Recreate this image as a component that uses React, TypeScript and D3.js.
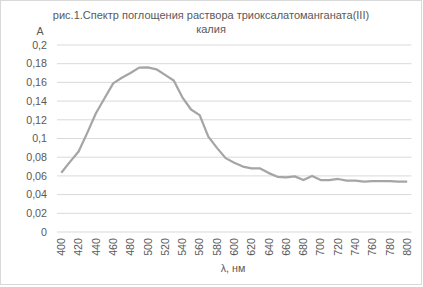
import React from "react";
import * as d3 from "d3";

const wavelengths: number[] = [
  400, 410, 420, 430, 440, 450, 460, 470, 480, 490, 500, 510, 520, 530, 540, 550, 560, 570, 580, 590,
  600, 610, 620, 630, 640, 650, 660, 670, 680, 690, 700, 710, 720, 730, 740, 750, 760, 770, 780, 790, 800,
];
const absorbance: number[] = [
  0.0634, 0.075, 0.086, 0.106, 0.127, 0.143, 0.159, 0.165, 0.17, 0.1758, 0.176, 0.174, 0.168, 0.162, 0.144,
  0.131, 0.125, 0.102, 0.09, 0.079, 0.074, 0.07, 0.068, 0.068, 0.063, 0.059, 0.0585, 0.0595, 0.0556, 0.06,
  0.0556, 0.0556, 0.0567, 0.055, 0.055, 0.054, 0.0545, 0.0545, 0.0545, 0.054, 0.054,
];
const yTicks: number[] = [0, 0.02, 0.04, 0.06, 0.08, 0.1, 0.12, 0.14, 0.16, 0.18, 0.2];
const xTickLabels: number[] = [
  400, 420, 440, 460, 480, 500, 520, 540, 560, 580, 600, 620, 640, 660, 680, 700, 720, 740, 760, 780, 800,
];
const titleLines: string[] = ["рис.1.Спектр поглощения раствора триоксалатоманганата(III)", "калия"];

const W = 423;
const H = 287;
const plot = { left: 57, right: 411.5, top: 45, bottom: 232 };
const font = "'Liberation Sans', Arial, sans-serif";
const textColor = "#595959";

export default function App() {
  const x = d3
    .scalePoint<number>()
    .domain(wavelengths)
    .range([plot.left, plot.right])
    .padding(0.5);
  const y = d3.scaleLinear().domain([0, 0.2]).range([plot.bottom, plot.top]);
  const line = d3
    .line<number>()
    .x((_, i) => x(wavelengths[i]) as number)
    .y((d) => y(d));
  const fmt = (v: number) => String(+v.toFixed(2)).replace(".", ",");

  return (
    <svg
      width={W}
      height={H}
      style={{ position: "absolute", left: 0, top: 0, background: "#fff" }}
      fontFamily={font}
    >
      <rect x={0.5} y={0.5} width={W - 2} height={H - 3} fill="#fff" stroke="#d9d9d9" />
      {yTicks.map((t) => (
        <g key={t}>
          <line x1={plot.left} x2={plot.right} y1={y(t)} y2={y(t)} stroke="#d9d9d9" strokeWidth={1} />
          <text x={47} y={y(t)} dy="0.35em" textAnchor="end" fontSize={10.7} fill={textColor}>
            {fmt(t)}
          </text>
        </g>
      ))}
      {xTickLabels.map((t) => (
        <text
          key={t}
          transform={`translate(${x(t)},238) rotate(-90)`}
          textAnchor="end"
          dy="0.35em"
          fontSize={10.7}
          fill={textColor}
        >
          {t}
        </text>
      ))}
      <path d={line(absorbance) || ""} fill="none" stroke="#a5a5a5" strokeWidth={2.25} strokeLinejoin="round" />
      {titleLines.map((s, i) => (
        <text key={i} x={211} y={19 + i * 14} textAnchor="middle" fontSize={11} fill={textColor}>
          {s}
        </text>
      ))}
      <text x={40} y={35} textAnchor="middle" fontSize={10.7} fill={textColor}>
        A
      </text>
      <text x={233} y={272} textAnchor="middle" fontSize={10.7} fill={textColor}>
        λ, нм
      </text>
    </svg>
  );
}
